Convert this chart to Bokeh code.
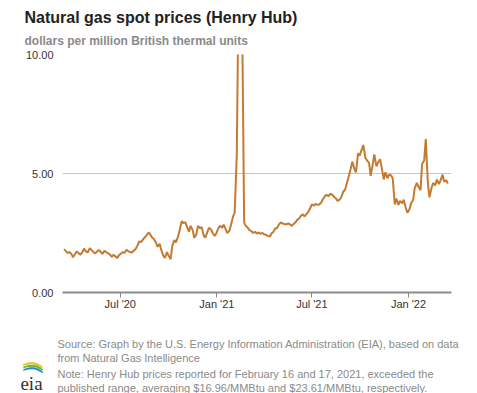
import pandas as pd
from bokeh.plotting import figure
from bokeh.layouts import column
from bokeh.models import Range1d, FixedTicker, NumeralTickFormatter, Grid, Label, ColumnDataSource
from bokeh.embed import file_html
from bokeh.resources import INLINE

# ---- data (Henry Hub spot price, $/MMBtu; Monday/Thursday samples) ----
prices_2020 = [
    1.82, 1.75, 1.66, 1.70, 1.62,                              # Mar
    1.48, 1.62, 1.72, 1.65, 1.58, 1.70, 1.84, 1.72, 1.68,      # Apr
    1.86, 1.80, 1.70, 1.64, 1.72, 1.79, 1.70, 1.62,            # May
    1.75, 1.70, 1.64, 1.60, 1.50, 1.58, 1.52, 1.44, 1.58,      # Jun
    1.62, 1.70, 1.66, 1.80, 1.74, 1.70, 1.68, 1.76, 1.82,      # Jul
    1.98, 2.15, 2.12, 2.22, 2.32, 2.40, 2.52, 2.45, 2.30,      # Aug
    2.25, 2.10, 1.92, 2.05, 1.80, 1.55, 1.45, 1.70,            # Sep
    1.55, 1.40, 1.95, 2.20, 2.10, 2.35, 2.60, 3.00, 2.92,      # Oct
    2.95, 2.78, 2.55, 2.80, 2.62, 2.30, 2.45, 2.80, 2.70,      # Nov
    2.75, 2.40, 2.30, 2.55, 2.72, 2.65, 2.50, 2.38, 2.48,      # Dec
]
prices_2021 = [
    2.70, 2.80, 2.72, 2.85, 2.65, 2.50, 2.60, 2.85,            # Jan
    3.20, 3.36, 5.80, 12.0, 12.0, 12.0, 2.95, 2.80,            # Feb
    2.72, 2.62, 2.58, 2.50, 2.55, 2.48, 2.52, 2.47, 2.50,      # Mar
    2.45, 2.42, 2.38, 2.35, 2.48, 2.55, 2.68, 2.72, 2.85,      # Apr
    2.95, 2.90, 2.88, 2.85, 2.90, 2.86, 2.80, 2.88, 2.95,      # May
    3.05, 3.12, 3.22, 3.28, 3.20, 3.30, 3.38, 3.55,            # Jun
    3.70, 3.65, 3.72, 3.68, 3.70, 3.78, 3.92, 4.05, 4.10,      # Jul
    4.05, 4.15, 4.10, 4.02, 3.95, 3.85, 3.90, 4.00, 4.25,      # Aug
    4.30, 4.62, 4.85, 5.20, 5.50, 5.20, 5.05, 5.85, 5.75,      # Sep
    6.00, 6.20, 5.65, 5.55, 5.45, 4.90, 5.40, 5.80,            # Oct
    5.30, 5.45, 5.60, 5.25, 4.75, 5.05, 4.80, 4.95, 4.92,      # Nov
    4.80, 3.70, 3.95, 3.68, 3.85, 3.75, 3.90, 3.55, 3.35,      # Dec
]
prices_2022 = [
    3.50, 3.75, 3.90, 4.40, 4.60, 4.45, 4.30, 5.40, 5.55,      # Jan
    6.45, 4.60, 4.00, 4.40, 4.60, 4.50, 4.75, 4.55,            # Feb
    4.70, 4.95, 4.65, 4.72, 4.58,                              # Mar
]
# the two off-scale days named in the note
spike_dates = ["2021-02-16", "2021-02-17"]
spike_prices = [16.96, 23.61]

x_start, x_end = "2020-03-13", "2022-03-24"
x_tick_dates = ["2020-07-01", "2021-01-01", "2021-07-01", "2022-01-01"]
x_tick_labels = ["Jul '20", "Jan '21", "Jul '21", "Jan '22"]
y_ticks = [0, 5, 10]

title_text = "Natural gas spot prices (Henry Hub)"
subtitle_text = "dollars per million British thermal units"
notes = [
    "Source: Graph by the U.S. Energy Information Administration (EIA), based on data",
    "from Natural Gas Intelligence",
    "Note: Henry Hub prices reported for February 16 and 17, 2021, exceeded the",
    "published range, averaging $16.96/MMBtu and $23.61/MMBtu, respectively.",
]


def ms(d):
    return pd.Timestamp(d).value // 10**6


mondays = pd.date_range("2020-03-16", "2022-03-14", freq="W-MON")
thursdays = pd.date_range("2020-03-19", "2022-03-17", freq="W-THU")
base_dates = list(mondays.union(thursdays))
values = prices_2020 + prices_2021 + prices_2022
n = min(len(base_dates), len(values))
series = list(zip(base_dates[:n], values[:n])) + [(pd.Timestamp(d), v) for d, v in zip(spike_dates, spike_prices)]
series.sort(key=lambda t: t[0])

src = ColumnDataSource(dict(x=[ms(d) for d, _ in series], y=[v for _, v in series]))

FONT = "Liberation Sans"
W = 477
HEAD_H = 50
CHART_H = 262
FOOT_H = 393 - HEAD_H - CHART_H


def text_panel(h):
    f = figure(width=W, height=h, output_backend="svg", toolbar_location=None, title=None,
               x_range=Range1d(0, 1), y_range=Range1d(0, 1), min_border=0,
               x_axis_location=None, y_axis_location=None)
    f.frame_align = False
    f.grid.visible = False
    f.outline_line_color = None
    f.background_fill_color = "white"
    f.border_fill_color = "white"
    return f


# ---- heading (label y measured up from the panel bottom) ----
head = text_panel(HEAD_H)
head.add_layout(Label(x=24, y=HEAD_H - 16.5, x_units="screen", y_units="screen", text=title_text,
                      text_font=FONT, text_font_size="16px", text_font_style="bold",
                      text_color="#222222", text_baseline="alphabetic"))
head.add_layout(Label(x=24, y=HEAD_H - 40, x_units="screen", y_units="screen", text=subtitle_text,
                      text_font=FONT, text_font_size="12px", text_font_style="bold",
                      text_color="#8a8a8a", text_baseline="alphabetic"))

# ---- chart: frame spans x 62..451, y 54..292 on the page ----
p = figure(width=W, height=CHART_H, output_backend="svg", toolbar_location=None, title=None,
           x_range=Range1d(ms(x_start), ms(x_end)), y_range=Range1d(y_ticks[0], y_ticks[-1]),
           min_border_left=62, min_border_right=26, min_border_top=54 - HEAD_H,
           min_border_bottom=HEAD_H + CHART_H - 292)
p.frame_align = False
p.outline_line_color = None
p.background_fill_color = "white"
p.border_fill_color = "white"

p.xgrid.visible = False
p.ygrid.ticker = FixedTicker(ticks=[t for t in y_ticks if y_ticks[0] < t < y_ticks[-1]])
p.ygrid.grid_line_color = "#c4c4c4"
p.ygrid.grid_line_width = 1
p.add_layout(Grid(dimension=1, ticker=FixedTicker(ticks=[y_ticks[-1]]),
                  grid_line_color="#d8d8d8", grid_line_width=2))

p.line("x", "y", source=src, line_color="#c47a30", line_width=2)

xa = p.xaxis[0]
xa.ticker = FixedTicker(ticks=[ms(d) for d in x_tick_dates])
xa.major_label_overrides = {ms(d): l for d, l in zip(x_tick_dates, x_tick_labels)}
xa.axis_line_color = "#8c8c8c"
xa.axis_line_width = 2
xa.major_tick_line_color = "#8c8c8c"
xa.major_tick_line_width = 1
xa.major_tick_out = 5
xa.major_tick_in = 0
xa.minor_tick_line_color = None
xa.major_label_standoff = 0
xa.major_label_text_font = FONT
xa.major_label_text_font_size = "11px"
xa.major_label_text_color = "#333333"

ya = p.yaxis[0]
ya.ticker = FixedTicker(ticks=y_ticks)
ya.formatter = NumeralTickFormatter(format="0.00")
ya.axis_line_color = None
ya.major_tick_line_color = None
ya.minor_tick_line_color = None
ya.major_tick_out = 0
ya.major_tick_in = 0
ya.major_label_standoff = 9
ya.major_label_text_font = FONT
ya.major_label_text_font_size = "11px"
ya.major_label_text_color = "#333333"

# ---- footer (label y measured up from the page bottom) ----
foot = text_panel(FOOT_H)
note_y = [49.5, 36, 19.5, 6]
for t, yy in zip(notes, note_y):
    foot.add_layout(Label(x=57, y=yy, x_units="screen", y_units="screen", text=t,
                          text_font=FONT, text_font_size="11px", text_color="#8a8a8a",
                          text_baseline="alphabetic"))
for col, yy in [("#f2c200", 29), ("#6cb33f", 26.5), ("#1f8fce", 24)]:
    foot.add_layout(Label(x=32, y=yy, x_units="screen", y_units="screen", text=")",
                          angle=1.45, text_font="DejaVu Sans", text_font_size="22px",
                          text_color=col, text_align="center", text_baseline="middle"))
foot.add_layout(Label(x=31, y=10, x_units="screen", y_units="screen", text="eia",
                      text_font="Liberation Serif", text_font_size="19px",
                      text_color="#333333", text_align="center", text_baseline="alphabetic"))

layout = column(head, p, foot, spacing=0)
open("out.html", "w").write(file_html(layout, INLINE))
